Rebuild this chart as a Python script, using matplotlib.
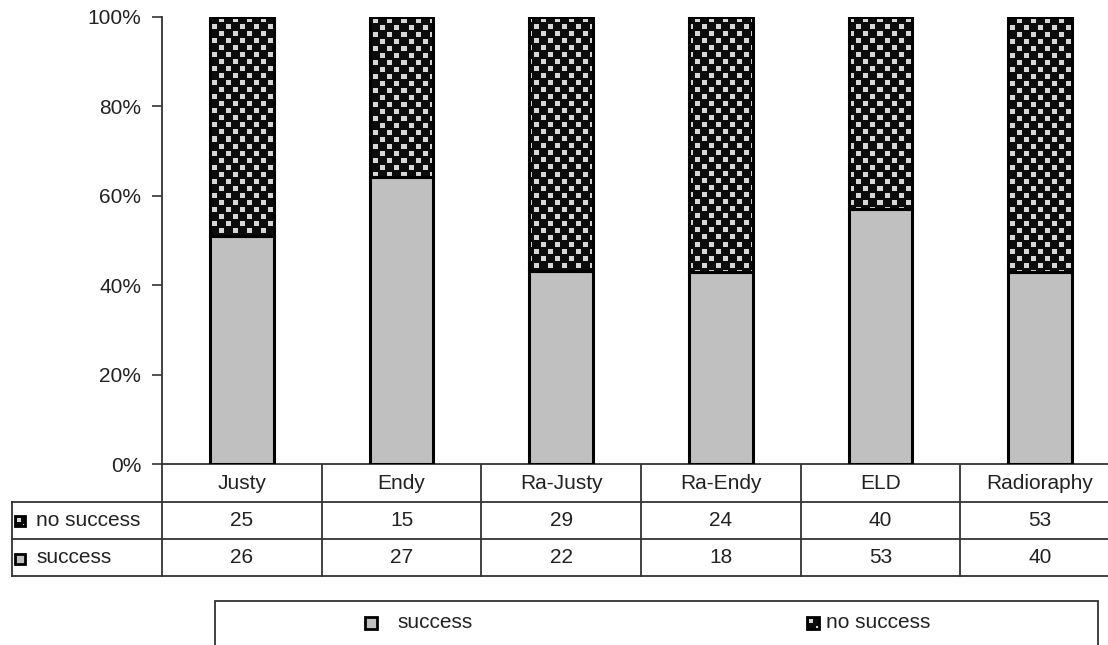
import matplotlib
matplotlib.use('Agg')

import matplotlib.pyplot as plt
import numpy as np
from matplotlib.patches import Rectangle

plt.rcParams['font.family'] = ['Liberation Sans', 'DejaVu Sans']

# counts per method
methods = ['Justy', 'Endy', 'Ra-Justy', 'Ra-Endy', 'ELD', 'Radioraphy']
no_success = [25, 15, 29, 24, 40, 53]
success = [26, 27, 22, 18, 53, 40]
row_names = ['no success', 'success']
yticks = [0, 20, 40, 60, 80, 100]

W, H = 1108, 645
GRAY = '#c0c0c0'
TXT = '#222222'
LINE = '#333333'
FS = 15

tot = np.array(success) + np.array(no_success)
succ_pct = np.array(success) / tot * 100
fail_pct = np.array(no_success) / tot * 100
x = np.arange(len(methods))


def checker(ny, nx, cell=7, lo=1, hi=5):
    # black background, light squares inside every other cell
    yy, xx = np.mgrid[0:ny, 0:nx]
    on = ((yy // cell + xx // cell) % 2 == 0)
    on &= (yy % cell >= lo) & (yy % cell <= hi)
    on &= (xx % cell >= lo) & (xx % cell <= hi)
    return on.astype(float)


fig = plt.figure(figsize=(W / 100, H / 100), dpi=100)

# main stacked bars
ax = fig.add_axes([162 / W, 1 - 464 / H, (1120 - 162) / W, (464 - 17) / H])
ax.bar(x, succ_pct, width=0.4, color=GRAY, edgecolor='black', linewidth=2.2, zorder=3)
tops = ax.bar(x, fail_pct, bottom=succ_pct, width=0.4, facecolor='none',
              edgecolor='black', linewidth=2.2, zorder=3)

# checkerboard fill for "no success", one image per bar clipped to it
cells = checker(447, 958)
for r in tops:
    im = ax.imshow(cells, extent=(-0.5, 5.5, 0, 100), aspect='auto', cmap='gray',
                   vmin=-0.06, vmax=1.2, interpolation='nearest', zorder=2)
    im.set_clip_path(r)

ax.set_xlim(-0.5, 5.5)
ax.set_ylim(0, 100)
ax.set_yticks(yticks)
ax.set_yticklabels([f'{v}%' for v in yticks], fontsize=FS, color=TXT)
ax.set_xticks([])
ax.tick_params(axis='y', length=7, width=1.2, color=LINE, pad=8)
for s in ['top', 'right']:
    ax.spines[s].set_visible(False)
for s in ['left', 'bottom']:
    ax.spines[s].set_color(LINE)
    ax.spines[s].set_linewidth(1.3)

# data table under the bars, sharing the bar x scale
px = 6 / 958
left = -0.5 - 150 * px
tab = fig.add_axes([12 / W, 1 - 576 / H, (1120 - 12) / W, (576 - 465) / H])
tab.set_xlim(left, 5.5)
tab.set_ylim(3, 0)
tab.axis('off')
kw = dict(color=LINE, linewidth=1.3, clip_on=False)
tab.plot([-0.5, -0.5], [0, 3], **kw)
for b in x[:-1] + 0.5:
    tab.plot([b, b], [0, 3], **kw)
tab.plot([left, left], [1, 3], **kw)
for yy in [1, 2, 3]:
    tab.plot([left, 5.5], [yy, yy], **kw)
for i, m in enumerate(methods):
    tab.text(i, 0.5, m, ha='center', va='center', fontsize=FS, color=TXT)
    tab.text(i, 1.5, str(no_success[i]), ha='center', va='center', fontsize=FS, color=TXT)
    tab.text(i, 2.5, str(success[i]), ha='center', va='center', fontsize=FS, color=TXT)
for j, name in enumerate(row_names):
    tab.text(left + 24 * px, j + 1.5, name, ha='left', va='center', fontsize=FS, color=TXT)

# overlay in pixel units for swatches and legend frame
ov = fig.add_axes([0, 0, 1, 1], zorder=5)
ov.set_xlim(0, W)
ov.set_ylim(H, 0)
ov.axis('off')


def swatch(x0, y0, size, checked):
    if checked:
        ov.imshow(checker(size, size, cell=size // 2 + 1, lo=2, hi=5),
                  extent=(x0, x0 + size, y0 + size, y0), cmap='gray',
                  vmin=-0.06, vmax=1.2, interpolation='nearest', zorder=6)
        ov.add_patch(Rectangle((x0, y0), size, size, facecolor='none',
                               edgecolor='black', linewidth=2, zorder=7))
    else:
        ov.add_patch(Rectangle((x0, y0), size, size, facecolor=GRAY,
                               edgecolor='black', linewidth=2, zorder=7))


swatch(15, 516, 10, True)
swatch(15, 554, 10, False)

ov.add_patch(Rectangle((215, 601), 1098 - 215, 80, facecolor='white',
                       edgecolor=LINE, linewidth=1.3, zorder=5))
swatch(365, 617, 12, False)
ov.text(397, 623, 'success', ha='left', va='center', fontsize=FS, color=TXT, zorder=8)
swatch(807, 617, 12, True)
ov.text(826, 623, 'no success', ha='left', va='center', fontsize=FS, color=TXT, zorder=8)
ov.set_xlim(0, W)
ov.set_ylim(H, 0)
ov.set_aspect('auto')

fig.savefig('out.png', dpi=100)
